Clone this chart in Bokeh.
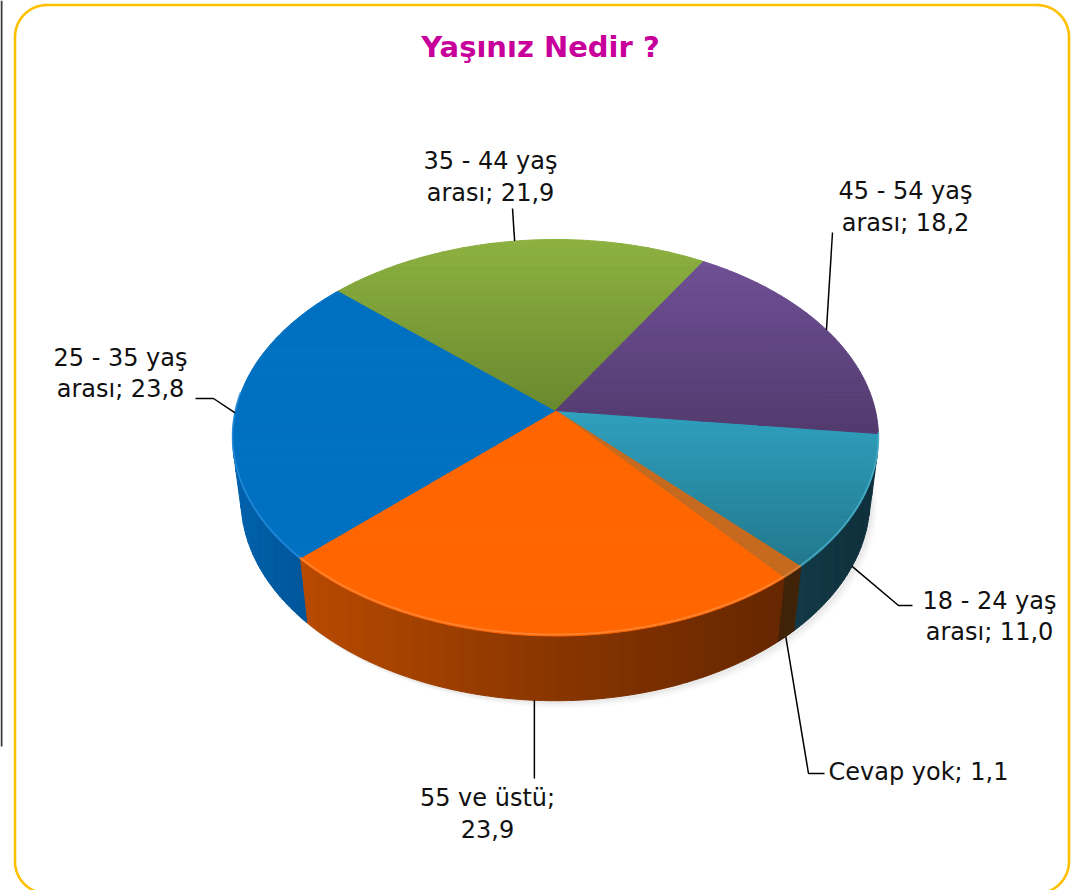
import numpy as np
from bokeh.plotting import figure
from bokeh.models import Range1d
from bokeh.embed import file_html
from bokeh.resources import INLINE
from bokeh.core.properties import value

# ---------------- data (clockwise order as drawn) ----------------
categories = ["18 - 24 yaş arası", "Cevap yok", "55 ve üstü",
              "25 - 35 yaş arası", "35 - 44 yaş arası", "45 - 54 yaş arası"]
values = [11.0, 1.1, 23.9, 23.8, 21.9, 18.2]
title_text = "Yaşınız Nedir ?"

# ---------------- styles ----------------
top_light = ["#2FA0BE", "#C56A1F", "#FF6600", "#0070C0", "#8DB141", "#6F5096"]
top_dark = ["#22788D", "#C56A1F", "#FF6600", "#0070C0", "#6A892E", "#523A6D"]
side_stops = [["#133A47", "#0E2F3A"], ["#40240A", "#40240A"],
              ["#B84A00", "#8A3600", "#652600"], ["#0062AC", "#00559A"],
              ["#5A7A25", "#5A7A25"], ["#45305C", "#45305C"]]
rim_light = ["#4FB3CC", "#D88A4A", "#FF8C42", "#2A8EDC", None, None]

# ---------------- 3D projection (layout) ----------------
CX, CY = 555.0, 410.0
SA, CA = 0.608, 0.794
DIST = 5.78
F = 1849.0
THICK = 0.25
START = 6.7  # degrees, clockwise from 3 o'clock

W, H = 1072, 890


def proj(u, v, h):
    ys = v * SA - h * CA
    z = DIST - v * CA - h * SA
    return CX + F * u / z, CY + F * ys / z


def rim(a0, a1, h, n=None):
    if n is None:
        n = max(4, int(abs(a1 - a0)) + 2)
    a = np.radians(np.linspace(a0, a1, n))
    return [proj(np.cos(t), np.sin(t), h) for t in a]


def clip_half(poly, axis, thr, keep_greater):
    out = []
    n = len(poly)
    for i in range(n):
        P = poly[i]
        Q = poly[(i + 1) % n]
        inP = P[axis] >= thr if keep_greater else P[axis] <= thr
        inQ = Q[axis] >= thr if keep_greater else Q[axis] <= thr
        if inP:
            out.append(P)
        if inP != inQ:
            t = (thr - P[axis]) / (Q[axis] - P[axis])
            out.append((P[0] + t * (Q[0] - P[0]), P[1] + t * (Q[1] - P[1])))
    return out


def hex2rgb(h):
    h = h.lstrip("#")
    return np.array([int(h[i:i + 2], 16) for i in (0, 2, 4)], float)


def grad(stops, t):
    t = min(max(t, 0.0), 1.0)
    if len(stops) == 1:
        return stops[0]
    seg = t * (len(stops) - 1)
    i = min(int(seg), len(stops) - 2)
    f = seg - i
    c = hex2rgb(stops[i]) * (1 - f) + hex2rgb(stops[i + 1]) * f
    return "#%02x%02x%02x" % tuple(int(round(x)) for x in c)


def banded(poly, axis, stops, nb, lo=None, hi=None):
    arr = np.array(poly)
    if lo is None:
        lo = arr[:, axis].min()
    if hi is None:
        hi = arr[:, axis].max()
    xs, ys, cols = [], [], []
    edges = np.linspace(arr[:, axis].min(), arr[:, axis].max(), nb + 1)
    for k in range(nb):
        pp = clip_half(poly, axis, edges[k], True)
        if len(pp) < 3:
            continue
        pp = clip_half(pp, axis, edges[k + 1], False)
        if len(pp) < 3:
            continue
        mid = 0.5 * (edges[k] + edges[k + 1])
        cols.append(grad(stops, (mid - lo) / (hi - lo) if hi > lo else 0))
        xs.append([q[0] for q in pp])
        ys.append([q[1] for q in pp])
    return xs, ys, cols


total = sum(values)
spans = [v / total * 360.0 for v in values]
bounds = [START]
for s in spans:
    bounds.append(bounds[-1] + s)

sil = np.degrees(np.arcsin(1.0 / (DIST * CA)))
vis_lo, vis_hi = sil, 180.0 - sil

# ---------------- figure ----------------
p = figure(width=W, height=H, x_range=Range1d(0, W), y_range=Range1d(H, 0),
           output_backend="svg", toolbar_location=None, min_border=0,
           x_axis_type=None, y_axis_type=None)
p.grid.visible = False
p.outline_line_color = None
p.background_fill_color = "white"
p.border_fill_color = "white"

# dark edge at far left
p.line([1, 1], [0, 746], line_color="#3A3A3A", line_width=2)

# frame (rounded rectangle)
L, R, T, B, RAD = 14.5, 1068.5, 4.5, 893.0, 32.0
fx, fy = [], []
for (ccx, ccy, a0, a1) in [(L + RAD, T + RAD, 180, 270), (R - RAD, T + RAD, 270, 360),
                           (R - RAD, B - RAD, 0, 90), (L + RAD, B - RAD, 90, 180)]:
    a = np.radians(np.linspace(a0, a1, 20))
    fx += list(ccx + RAD * np.cos(a))
    fy += list(ccy + RAD * np.sin(a))
fx.append(fx[0])
fy.append(fy[0])
p.line(fx, fy, line_color="#FFC000", line_width=2.6)

# shadow under the pie
base = rim(0, 360, -THICK, 180)
for off, al in [((7, 7), 0.04), ((5, 5), 0.06), ((3, 3), 0.08)]:
    p.patch([q[0] + off[0] for q in base], [q[1] + off[1] for q in base],
            fill_color="#808080", fill_alpha=al, line_color=None)

# walls (front, visible)
for i in range(len(values)):
    for rep in (0, 360):
        a0 = max(bounds[i] - rep, vis_lo)
        a1 = min(bounds[i + 1] - rep, vis_hi)
        if a1 <= a0:
            continue
        wall = rim(a0, a1, 0.0) + rim(a1, a0, -THICK)
        lo = proj(-0.72, 0.69, 0)[0] if i == 2 else None
        hi = proj(0.66, 0.75, 0)[0] if i == 2 else None
        xs, ys, cols = banded(wall, 0, side_stops[i], 30, lo=lo, hi=hi)
        p.patches(xs, ys, fill_color=cols, line_color=cols, line_width=1.0)

# top faces
for i in range(len(values)):
    poly = [proj(0, 0, 0)] + rim(bounds[i], bounds[i + 1], 0.0)
    xs, ys, cols = banded(poly, 1, [top_light[i], top_dark[i]], 40)
    p.patches(xs, ys, fill_color=cols, line_color=cols, line_width=1.0)

# light rim highlight on front edges
for i in range(len(values)):
    if rim_light[i] is None:
        continue
    a0 = max(bounds[i], 0.0)
    a1 = min(bounds[i + 1], 185.0)
    if a1 <= a0:
        continue
    pts = rim(a0, a1, 0.0)
    p.line([q[0] for q in pts], [q[1] - 1.5 for q in pts], line_color=rim_light[i],
           line_width=1.6, line_alpha=0.8)

# ---------------- labels ----------------
def fmt(v):
    return ("%.1f" % v).replace(".", ",")


label_lines = []
for c, v in zip(categories, values):
    if c.endswith(" arası"):
        label_lines.append([c[:-6], "arası; " + fmt(v)])
    elif c == "55 ve üstü":
        label_lines.append([c + ";", fmt(v)])
    else:
        label_lines.append([c + "; " + fmt(v)])

# layout of label boxes and leader elbows (pixel positions)
leader_via = [[(898, 605), (912, 605)], [(808, 773), (824, 773)], [(None, 778)],
              [(213, 398), (195, 398)], [(512, 208)], [(832, 232)]]
text_pos = [(989, [600, 631], "center"), (828, [771], "left"), (487, [797, 828], "center"),
            (120, [357, 388], "center"), (490, [160, 192], "center"), (905, [190, 222], "center")]

for i in range(len(values)):
    mid = 0.5 * (bounds[i] + bounds[i + 1]) % 360
    t = np.radians(mid)
    h = -THICK if vis_lo <= mid <= vis_hi else 0.0
    ax, ay = proj(np.cos(t), np.sin(t), h)
    lx, ly = [ax], [ay]
    for pt in leader_via[i]:
        px = ax if pt[0] is None else pt[0]
        lx.append(px)
        ly.append(pt[1])
    p.line(lx, ly, line_color="black", line_width=1.5)
    tx, tys, al = text_pos[i]
    p.text(x=[tx] * len(tys), y=tys, text=label_lines[i], text_align=al,
           text_baseline="middle", text_font=value("DejaVu Sans"),
           text_font_size="24px", text_color="#111111")

# title
p.text(x=[540], y=[46], text=[title_text], text_align="center", text_baseline="middle",
       text_font=value("DejaVu Sans"), text_font_style="bold", text_font_size="29px",
       text_color="#C8009B")

open("out.html", "w").write(file_html(p, INLINE))
